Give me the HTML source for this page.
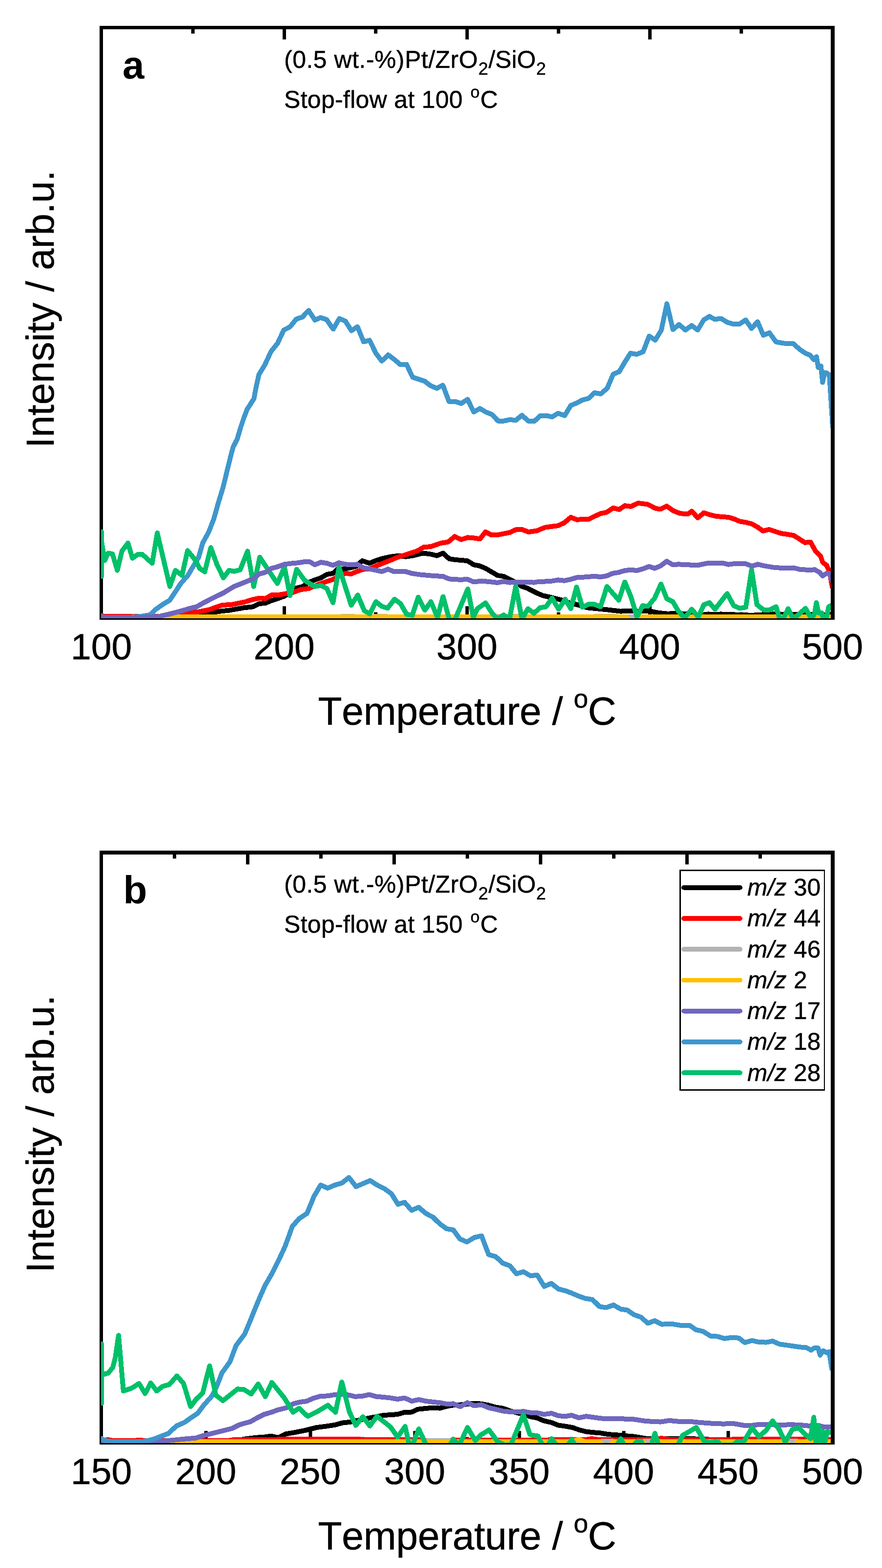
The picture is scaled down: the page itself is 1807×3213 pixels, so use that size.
<!DOCTYPE html>
<html lang="en">
<head>
<meta charset="utf-8">
<title>Stop-flow TPD profiles</title>
<style>
html,body{margin:0;padding:0;background:#fff;}
body{width:1807px;height:3213px;overflow:hidden;}
svg{display:block;font-family:"Liberation Sans", Arial, Helvetica, sans-serif;fill:#000;font-kerning:none;text-rendering:geometricPrecision;}
text{stroke:#000;stroke-width:0.5px;}
text[stroke=none]{stroke:none;}
</style>
</head>
<body>
<svg width="1807" height="3213" viewBox="0 0 1807 3213">
<rect width="1807" height="3213" fill="#fff"/>
<g id="panel-a">
<g fill="#000">
<rect x="204" y="53" width="7" height="1217"/>
<rect x="204" y="1263" width="1506" height="7"/>
<rect x="579" y="1242.2" width="7" height="24.8"/>
<rect x="953.5" y="1242.2" width="7" height="24.8"/>
<rect x="1328" y="1242.2" width="7" height="24.8"/>
<rect x="391.75" y="1254.6" width="7" height="12.4"/>
<rect x="766.25" y="1254.6" width="7" height="12.4"/>
<rect x="1140.75" y="1254.6" width="7" height="12.4"/>
<rect x="1515.25" y="1254.6" width="7" height="12.4"/>
</g>
<clipPath id="clip-a"><rect x="207" y="60" width="1495" height="1207"/></clipPath>
<g clip-path="url(#clip-a)" fill="none" stroke-width="10" stroke-linejoin="round" stroke-linecap="round" shape-rendering="crispEdges">
<polyline stroke="#000000" points="207.6,1264.0 360.0,1264.0 376.0,1262.9 407.0,1260.8 427.7,1257.1 448.4,1252.8 469.2,1250.7 500.0,1245.3 518.6,1243.3 531.1,1237.0 543.5,1236.0 555.9,1230.8 568.3,1226.7 582.8,1221.5 607.7,1204.9 620.1,1201.8 632.5,1193.6 644.9,1188.4 657.3,1184.2 669.8,1177.0 682.2,1174.9 692.5,1165.6 705.0,1165.6 717.4,1163.5 729.8,1160.4 742.2,1149.0 756.7,1154.2 769.2,1149.0 781.6,1144.9 800.0,1140.8 816.6,1138.7 831.1,1140.8 845.5,1138.7 866.3,1133.5 882.8,1135.6 895.2,1138.7 907.7,1133.5 920.1,1144.9 932.5,1147.0 944.9,1148.0 957.3,1149.0 970.8,1157.3 982.2,1159.4 994.6,1164.6 1007.0,1171.8 1019.5,1179.1 1031.9,1181.1 1044.3,1187.3 1056.7,1193.6 1069.2,1201.8 1079.5,1204.9 1100.0,1215.3 1112.4,1220.5 1131.1,1224.6 1151.8,1229.8 1168.3,1236.0 1182.8,1239.1 1203.5,1245.3 1224.2,1247.4 1244.9,1249.5 1271.8,1252.6 1292.5,1251.5 1307.0,1252.6 1327.7,1251.5 1348.4,1255.7 1367.1,1257.7 1389.9,1256.7 1410.0,1258.8 1430.7,1260.8 1451.4,1258.4 1463.8,1259.4 1476.3,1258.4 1503.2,1259.4 1540.4,1260.8 1563.2,1259.4 1588.1,1258.2 1617.0,1259.0 1650.2,1259.0 1687.4,1259.8 1706.1,1259.0"/>
<polyline stroke="#ff0000" points="207.6,1260.8 213.0,1263.4 330.0,1263.4 344.9,1260.8 376.0,1257.3 407.0,1253.6 427.7,1249.5 454.7,1240.1 475.4,1238.7 500.0,1233.9 516.6,1228.8 531.1,1225.7 543.5,1226.7 555.9,1219.4 568.3,1219.4 587.0,1216.3 599.4,1214.3 615.9,1208.1 632.5,1206.0 644.9,1200.8 657.3,1195.6 682.2,1187.3 694.6,1180.1 707.0,1174.9 719.5,1176.0 731.9,1170.8 744.3,1166.6 756.7,1165.6 769.2,1160.4 781.6,1155.3 800.0,1148.0 812.4,1142.8 831.1,1136.6 853.8,1129.4 868.3,1121.1 882.8,1120.1 903.5,1112.8 918.0,1110.7 931.5,1099.4 944.9,1105.6 958.4,1101.4 971.8,1102.5 983.2,1104.5 994.6,1090.0 1007.0,1096.3 1021.5,1095.8 1034.0,1093.1 1044.3,1091.1 1056.7,1085.5 1069.2,1084.9 1082.6,1090.0 1100.0,1087.6 1116.6,1080.7 1131.1,1078.7 1143.5,1077.2 1155.9,1071.4 1169.4,1060.0 1182.8,1065.2 1193.2,1063.5 1205.6,1064.2 1218.0,1058.0 1230.4,1052.4 1242.9,1049.7 1256.3,1040.8 1268.7,1044.1 1280.1,1036.2 1292.5,1037.9 1307.0,1031.0 1317.4,1032.1 1327.7,1033.7 1342.2,1041.4 1352.6,1043.5 1366.0,1037.2 1379.5,1046.6 1394.0,1052.4 1410.0,1052.8 1417.2,1047.6 1429.7,1061.1 1442.1,1050.7 1454.5,1054.8 1468.0,1058.0 1480.4,1059.0 1492.8,1060.0 1503.2,1063.1 1515.6,1068.3 1528.0,1070.4 1540.4,1073.5 1552.9,1080.7 1563.2,1088.0 1575.6,1084.9 1588.1,1089.0 1600.5,1093.1 1615.0,1095.2 1626.4,1097.3 1637.7,1104.5 1649.1,1111.8 1660.5,1110.7 1670.9,1129.4 1681.2,1139.7 1685.4,1152.2 1693.6,1158.4 1699.9,1172.9 1705.0,1202.9"/>
<polyline stroke="#b3b3b3" points="207.6,1265.2 400.0,1265.2 420.0,1264.2 690.0,1264.2 700.0,1263.4 725.0,1263.4 735.0,1264.2 760.0,1264.2 768.0,1263.2 790.0,1263.2 800.0,1264.2 1010.0,1264.2 1020.0,1263.4 1060.0,1263.4 1070.0,1264.2 1210.0,1264.2 1220.0,1263.2 1260.0,1263.2 1270.0,1264.0 1710.0,1264.0"/>
<polyline stroke="#ffc000" points="207.6,1265.4 268.0,1265.4 274.0,1263.6 284.0,1263.6 290.0,1265.2 330.0,1265.2 345.0,1264.3 1284.0,1264.3 1288.0,1275.0 1304.0,1275.0 1308.0,1264.3 1710.0,1264.3"/>
<polyline stroke="#3f97cc" points="207.6,1263.5 212.0,1264.8 272.0,1264.8 288.0,1263.0 299.0,1261.3 307.7,1259.8 318.0,1249.5 332.5,1239.1 348.0,1229.8 359.4,1212.2 371.8,1193.6 384.3,1180.1 394.6,1162.5 407.0,1141.8 415.3,1112.8 427.7,1090.0 438.1,1063.1 447.4,1030.0 457.1,998.6 465.0,965.8 472.6,934.7 477.8,915.7 485.9,900.0 493.2,875.4 499.4,856.7 506.6,838.1 520.1,817.4 525.3,790.5 530.4,767.7 542.9,747.0 555.3,720.1 568.7,703.5 581.2,676.6 594.6,669.4 607.0,653.8 619.5,649.7 632.3,636.2 645.3,655.9 656.7,650.7 669.2,654.9 682.6,674.5 695.2,652.8 707.6,658.0 720.0,677.6 732.4,669.4 744.9,700.4 757.3,697.3 769.7,723.2 782.1,739.8 795.2,727.3 808.0,736.6 820.4,747.4 832.9,746.6 845.3,772.9 857.7,777.0 870.1,781.2 882.5,790.5 895.0,795.7 907.4,789.4 919.8,822.6 932.2,822.6 944.7,826.7 958.1,818.4 970.5,844.3 983.1,837.1 995.5,844.3 1008.0,849.5 1020.4,862.5 1032.8,862.5 1044.2,859.8 1056.6,861.3 1069.4,850.9 1082.5,862.9 1094.9,862.9 1107.3,851.6 1118.7,851.6 1131.1,854.2 1143.6,846.8 1157.0,851.6 1169.4,830.8 1181.9,825.7 1193.3,819.5 1205.7,816.4 1218.1,805.0 1230.9,807.0 1244.0,795.7 1256.4,766.7 1268.8,761.5 1280.4,741.5 1291.7,723.9 1304.2,726.0 1317.6,720.8 1330.0,688.7 1342.5,697.0 1354.9,676.3 1366.3,622.4 1378.7,675.2 1391.1,664.9 1404.2,676.3 1417.0,667.0 1429.4,676.3 1441.8,655.6 1453.2,648.3 1464.6,654.5 1477.0,652.5 1490.5,660.7 1501.9,663.9 1515.3,663.9 1527.8,655.6 1539.7,673.1 1552.1,659.3 1563.8,686.9 1576.3,682.1 1590.1,700.7 1606.6,703.5 1625.3,704.2 1638.4,715.9 1650.8,724.2 1659.8,727.7 1667.3,737.3 1672.9,731.1 1676.3,753.2 1681.8,749.7 1685.3,783.6 1689.4,763.5 1693.6,764.2 1698.4,767.7 1699.4,771.8 1706.0,875.3"/>
<polyline stroke="#00c06a" points="208.1,1181.0 208.1,1089.8 208.4,1112.0 214.5,1148.6 221.7,1133.5 230.4,1135.0 240.4,1168.7 249.7,1129.4 262.1,1112.8 271.4,1143.9 282.8,1135.6 291.1,1135.6 311.8,1154.2 322.2,1092.1 348.0,1201.8 359.4,1168.7 372.9,1179.1 384.3,1128.3 398.8,1145.9 409.1,1164.6 419.5,1171.8 431.9,1122.1 444.3,1156.3 457.8,1184.2 469.2,1168.7 479.5,1170.8 491.9,1167.7 507.2,1129.4 519.7,1201.8 532.1,1141.8 568.3,1195.6 582.8,1161.5 594.2,1220.5 607.7,1166.6 624.2,1189.4 644.9,1201.8 657.3,1199.8 669.8,1206.0 682.2,1235.0 694.6,1162.5 719.5,1240.1 732.9,1219.4 746.4,1251.5 757.8,1257.7 770.2,1232.9 781.6,1242.2 794.0,1246.4 808.3,1227.7 820.7,1237.0 833.1,1258.8 844.5,1260.8 856.9,1223.6 870.4,1250.5 882.8,1232.9 896.3,1265.0 907.7,1222.5 921.1,1271.2 931.5,1271.2 958.4,1207.0 969.8,1265.0 978.1,1247.4 994.6,1235.4 1009.1,1257.7 1019.5,1267.7 1031.9,1260.2 1043.9,1268.5 1056.7,1200.8 1069.2,1268.5 1081.6,1247.4 1094.0,1256.7 1106.2,1245.3 1118.6,1243.3 1131.1,1225.7 1144.5,1248.4 1158.0,1227.7 1169.4,1247.4 1181.2,1202.9 1193.2,1244.3 1205.6,1238.1 1217.0,1238.1 1230.4,1243.3 1243.5,1201.8 1267.7,1229.8 1280.1,1192.5 1292.5,1222.5 1305.0,1264.0 1316.4,1241.2 1327.7,1242.2 1341.2,1225.7 1354.2,1196.7 1366.0,1226.7 1378.5,1232.9 1389.9,1252.6 1402.7,1266.0 1417.2,1248.4 1430.7,1264.0 1442.1,1239.1 1453.5,1235.0 1464.9,1248.4 1489.7,1216.3 1503.2,1241.2 1515.6,1246.4 1528.0,1244.3 1539.8,1167.7 1550.8,1239.1 1564.2,1249.5 1577.7,1249.5 1590.1,1243.3 1597.4,1268.1 1604.6,1268.1 1614.6,1247.4 1625.3,1268.1 1637.7,1257.7 1650.2,1246.4 1662.6,1268.1 1668.8,1257.7 1672.5,1235.0 1677.1,1255.7 1683.3,1255.7 1687.4,1270.2 1692.6,1268.1 1697.8,1243.3 1701.9,1241.2 1706.1,1241.2"/>
<polyline stroke="#6e67be" points="207.6,1264.7 290.0,1264.7 312.0,1264.0 324.2,1263.5 344.9,1258.8 365.6,1253.6 386.3,1247.4 402.9,1243.3 417.4,1235.0 438.1,1224.6 458.8,1214.3 479.5,1201.8 500.0,1193.6 518.6,1186.3 531.1,1176.0 543.5,1172.9 555.9,1164.6 568.3,1161.5 582.8,1156.3 599.4,1154.2 611.8,1153.2 624.2,1151.1 634.6,1151.1 644.9,1157.3 657.3,1152.2 669.8,1154.2 682.2,1158.4 694.6,1153.2 707.0,1156.3 719.5,1157.3 731.9,1156.3 744.3,1163.5 756.7,1165.6 769.2,1168.3 782.6,1171.2 795.0,1166.2 806.2,1171.0 831.1,1171.2 843.5,1174.9 860.0,1177.4 882.8,1179.5 907.7,1181.1 920.1,1186.3 932.5,1187.3 944.9,1187.8 957.3,1186.9 970.8,1192.5 986.3,1190.5 1007.0,1192.5 1019.5,1194.0 1031.9,1191.5 1044.3,1193.6 1056.7,1192.5 1069.2,1192.5 1094.0,1193.6 1100.0,1192.5 1116.6,1191.5 1131.1,1190.5 1143.5,1188.4 1155.9,1189.8 1168.3,1187.3 1182.8,1183.2 1203.5,1182.2 1218.0,1180.7 1230.4,1182.2 1242.9,1180.1 1255.3,1174.9 1267.7,1172.9 1280.1,1169.1 1292.5,1167.7 1305.0,1169.1 1317.4,1165.6 1329.8,1160.8 1341.2,1164.6 1353.6,1159.4 1366.0,1150.1 1378.5,1157.3 1389.9,1156.3 1410.0,1157.3 1428.6,1158.4 1451.4,1153.8 1480.4,1153.8 1492.8,1156.7 1507.3,1154.6 1528.0,1155.3 1540.4,1160.0 1552.9,1156.3 1565.3,1159.4 1583.9,1162.5 1604.6,1164.2 1625.3,1163.5 1637.7,1166.6 1660.5,1168.3 1668.8,1167.1 1679.2,1172.9 1685.4,1180.1 1693.6,1174.9 1699.9,1174.9 1703.6,1188.4"/>
</g>
<g fill="#000">
<rect x="204" y="53" width="1506" height="7"/>
<rect x="1702" y="53" width="8" height="1217"/>
<rect x="579" y="53" width="7" height="27.8"/>
<rect x="953.5" y="53" width="7" height="27.8"/>
<rect x="1328" y="53" width="7" height="27.8"/>
<rect x="391.75" y="53" width="7" height="15.8"/>
<rect x="766.25" y="53" width="7" height="15.8"/>
<rect x="1140.75" y="53" width="7" height="15.8"/>
<rect x="1515.25" y="53" width="7" height="15.8"/>
</g>
<g font-size="75" text-anchor="middle">
<text x="207.60" y="1350.50">100</text>
<text x="582.10" y="1350.50">200</text>
<text x="956.60" y="1350.50">300</text>
<text x="1331.10" y="1350.50">400</text>
<text x="1705.60" y="1350.50">500</text>
</g>
<text font-size="80.5" x="651.4" y="1484.50" letter-spacing="-0.3">Temperature / <tspan font-size="53.5" dy="-34.5">o</tspan><tspan dy="34.5">C</tspan></text>
<text font-size="80" text-anchor="middle" transform="translate(109.6 633.50) rotate(-90)">Intensity / arb.u.</text>
<text font-size="80" font-weight="bold" stroke="none" x="251.00" y="160.80">a</text>
<text font-size="50" x="582" y="138.70"><tspan letter-spacing="0.5">(0.5 wt.-%)Pt/ZrO</tspan><tspan font-size="36" dy="14.2" dx="0.6">2</tspan><tspan dy="-14.2" dx="0.6">/SiO</tspan><tspan font-size="36" dy="14.2" dx="0.6">2</tspan></text>
<text font-size="50" x="582" y="220.80" letter-spacing="0.3">Stop-flow at 100 <tspan font-size="34" dy="-21" dx="1.3">o</tspan><tspan dy="21" dx="1.2">C</tspan></text>
</g>
<g id="panel-b">
<g fill="#000">
<rect x="204" y="1743" width="7" height="1217"/>
<rect x="204" y="2953" width="1506" height="7"/>
<rect x="418.5" y="2932.2" width="7" height="24.8"/>
<rect x="632.5" y="2932.2" width="7" height="24.8"/>
<rect x="846.5" y="2932.2" width="7" height="24.8"/>
<rect x="1060.5" y="2932.2" width="7" height="24.8"/>
<rect x="1274.5" y="2932.2" width="7" height="24.8"/>
<rect x="1488.5" y="2932.2" width="7" height="24.8"/>
<rect x="311.5" y="2944.6" width="7" height="12.4"/>
<rect x="525.5" y="2944.6" width="7" height="12.4"/>
<rect x="739.5" y="2944.6" width="7" height="12.4"/>
<rect x="953.5" y="2944.6" width="7" height="12.4"/>
<rect x="1167.5" y="2944.6" width="7" height="12.4"/>
<rect x="1381.5" y="2944.6" width="7" height="12.4"/>
<rect x="1595.5" y="2944.6" width="7" height="12.4"/>
</g>
<clipPath id="clip-b"><rect x="207" y="1751" width="1495" height="1206"/></clipPath>
<g clip-path="url(#clip-b)" fill="none" stroke-width="10" stroke-linejoin="round" stroke-linecap="round" shape-rendering="crispEdges">
<polyline stroke="#000000" points="207.6,2953.0 480.0,2953.0 500.0,2948.8 524.8,2945.7 541.4,2944.6 555.9,2942.6 570.4,2946.1 584.9,2938.4 603.5,2935.3 624.2,2931.2 649.1,2925.0 665.6,2922.9 686.3,2919.8 700.8,2915.7 719.5,2913.6 738.1,2909.4 758.8,2905.3 785.7,2900.1 800.0,2899.1 814.5,2898.1 829.0,2893.9 843.5,2893.5 855.9,2887.7 872.5,2886.0 887.0,2884.6 901.4,2885.6 915.9,2881.5 928.4,2879.4 944.9,2878.4 957.3,2877.3 971.8,2875.7 986.3,2876.7 1000.8,2879.4 1015.3,2883.6 1029.8,2885.6 1044.3,2890.8 1058.8,2894.9 1073.3,2898.1 1087.8,2903.2 1100.0,2905.3 1114.5,2911.5 1129.0,2914.6 1143.5,2920.4 1158.0,2922.5 1172.5,2925.0 1187.0,2930.1 1201.4,2933.7 1215.9,2935.3 1230.4,2936.4 1244.9,2939.0 1265.6,2940.5 1286.3,2942.6 1298.8,2943.6 1323.6,2947.7 1348.4,2948.2 1369.2,2947.7 1410.0,2947.7 1430.7,2948.8 1472.1,2950.2 1534.2,2950.2 1596.3,2949.4 1706.1,2950.2"/>
<polyline stroke="#ff0000" points="207.6,2952.0 214.0,2952.0 221.0,2949.8 230.0,2952.0 276.0,2952.0 285.0,2950.6 296.0,2952.0 470.0,2951.5 483.0,2949.5 500.0,2950.5 545.0,2949.8 583.0,2949.3 650.0,2948.8 672.0,2949.5 700.0,2949.2 800.0,2950.0 862.0,2950.2 872.0,2951.6 922.0,2951.6 932.0,2950.5 1000.0,2950.6 1100.0,2950.6 1200.0,2950.2 1212.0,2948.0 1228.0,2950.0 1340.0,2950.0 1355.0,2947.0 1372.0,2950.0 1480.0,2950.5 1500.0,2949.5 1580.0,2948.8 1600.0,2949.5 1640.0,2949.0 1710.0,2950.0"/>
<polyline stroke="#b3b3b3" points="207.6,2953.9 868.0,2953.9 878.0,2951.8 920.0,2951.8 930.0,2953.9 1230.0,2953.9 1236.0,2952.5 1252.0,2952.5 1258.0,2953.9 1316.0,2953.9 1322.0,2952.5 1334.0,2952.5 1340.0,2953.9 1610.0,2953.9 1616.0,2952.5 1630.0,2952.5 1636.0,2953.9 1710.0,2953.9"/>
<polyline stroke="#ffc000" points="207.6,2954.5 1170.0,2954.5 1186.0,2949.5 1200.0,2954.5 1228.0,2954.5 1236.0,2966.0 1250.0,2966.0 1256.0,2954.5 1318.0,2954.5 1322.0,2966.0 1330.0,2966.0 1336.0,2954.5 1612.0,2954.5 1616.0,2966.0 1630.0,2966.0 1634.0,2954.5 1710.0,2954.5"/>
<polyline stroke="#6e67be" points="207.6,2953.5 300.0,2954.0 313.9,2955.0 344.9,2951.9 376.0,2948.8 400.8,2946.7 417.4,2941.5 438.1,2936.4 458.8,2931.2 475.4,2927.0 489.9,2919.8 500.0,2916.7 512.4,2913.6 526.9,2905.3 541.4,2898.1 555.9,2893.9 570.4,2888.7 587.0,2884.6 601.4,2876.3 613.9,2873.2 628.4,2871.1 642.9,2864.9 657.3,2860.8 671.8,2860.4 686.3,2857.7 700.8,2857.1 715.3,2858.7 727.7,2861.8 742.2,2860.8 756.7,2857.7 771.2,2861.8 785.7,2862.9 800.0,2864.5 814.5,2867.0 829.0,2864.5 843.5,2871.1 858.0,2868.0 872.5,2871.1 887.0,2872.8 901.4,2874.2 915.9,2877.3 928.4,2876.3 942.9,2882.5 957.3,2874.2 971.8,2880.5 986.3,2878.4 1000.8,2884.6 1015.3,2887.7 1029.8,2891.4 1044.3,2892.9 1058.8,2892.9 1073.3,2892.3 1087.8,2894.9 1100.0,2894.9 1114.5,2898.1 1130.0,2896.0 1144.5,2901.2 1158.0,2902.2 1171.4,2900.1 1185.9,2905.3 1201.4,2902.2 1215.9,2904.3 1230.4,2906.3 1244.9,2907.4 1276.0,2907.4 1298.8,2908.4 1323.6,2912.1 1352.6,2913.6 1371.2,2910.9 1387.8,2912.5 1410.0,2912.5 1430.7,2914.6 1451.4,2916.3 1482.5,2917.7 1501.1,2916.7 1525.9,2921.2 1544.6,2920.4 1554.9,2918.8 1575.6,2918.8 1596.3,2920.4 1617.0,2919.2 1637.7,2919.8 1658.4,2921.9 1677.1,2920.8 1687.4,2923.9 1706.1,2923.9"/>
<polyline stroke="#3f97cc" points="207.6,2947.5 214.0,2951.5 230.0,2954.0 293.2,2954.0 313.9,2949.4 328.4,2943.6 344.9,2937.4 361.5,2921.9 378.1,2914.6 392.5,2904.3 405.0,2896.0 417.4,2879.4 434.0,2860.8 444.3,2840.1 454.7,2813.2 471.2,2790.4 483.6,2757.3 489.0,2750.0 501.4,2733.6 515.9,2698.4 528.4,2667.4 542.9,2634.3 557.3,2609.4 571.8,2580.4 584.3,2553.5 592.5,2530.7 598.8,2513.1 613.3,2496.6 613.5,2496.7 629.0,2486.3 643.5,2451.1 656.9,2428.4 671.4,2434.6 685.9,2428.4 700.4,2424.2 714.9,2412.8 729.4,2431.5 743.9,2425.3 758.4,2419.0 772.9,2428.4 787.4,2435.6 801.9,2446.0 815.3,2467.7 828.8,2463.6 843.3,2480.1 857.8,2473.9 872.3,2486.3 887.2,2494.2 900.7,2507.6 915.2,2518.0 928.7,2520.1 942.1,2538.7 956.6,2544.9 972.1,2535.6 986.6,2532.5 1001.1,2570.8 1015.6,2574.9 1030.1,2588.4 1044.6,2593.6 1058.1,2610.1 1072.5,2606.0 1087.0,2614.3 1100.5,2612.6 1115.0,2636.0 1129.5,2629.8 1144.0,2641.2 1159.5,2645.3 1170.4,2649.4 1184.8,2655.6 1199.3,2660.8 1213.8,2662.9 1228.3,2677.3 1241.8,2679.4 1256.9,2674.2 1271.8,2682.5 1285.3,2684.6 1298.7,2693.9 1313.2,2699.1 1327.3,2711.5 1341.2,2706.3 1355.7,2713.6 1377.4,2713.0 1394.0,2715.7 1412.6,2715.7 1426.0,2725.0 1440.5,2728.1 1455.5,2737.6 1470.0,2738.6 1484.5,2742.8 1499.0,2740.7 1513.5,2741.7 1525.9,2751.1 1540.4,2746.9 1554.9,2750.0 1569.4,2750.6 1582.9,2748.0 1596.3,2754.2 1610.8,2756.2 1625.3,2758.3 1639.8,2760.4 1652.2,2761.4 1661.6,2766.6 1667.8,2762.4 1676.0,2762.4 1680.2,2776.9 1686.4,2767.6 1693.6,2771.8 1698.8,2769.7 1704.0,2804.9"/>
<polyline stroke="#00c06a" points="208.1,2875.5 208.1,2754.0 208.3,2814.0 214.5,2815.7 221.7,2813.6 231.1,2801.8 236.2,2782.1 242.9,2736.4 252.8,2850.4 270.4,2844.2 284.9,2834.9 297.3,2855.6 308.7,2833.9 321.1,2850.4 332.5,2841.1 347.0,2837.0 362.5,2819.4 376.0,2834.9 390.5,2882.5 401.9,2867.0 415.3,2854.6 429.4,2798.7 442.2,2858.7 456.7,2870.1 471.2,2858.7 486.7,2846.3 500.0,2847.3 514.5,2856.6 529.0,2835.9 543.5,2861.8 556.9,2832.8 582.8,2864.9 600.4,2893.9 612.8,2885.6 630.4,2902.2 651.1,2891.8 671.8,2879.4 687.4,2893.9 700.2,2831.8 715.3,2891.8 728.8,2920.8 743.3,2903.2 757.8,2921.9 772.3,2902.2 800.0,2923.9 814.5,2944.6 830.0,2922.9 838.3,2960.2 845.5,2960.2 858.0,2928.1 874.5,2964.3 920.1,2964.3 928.8,2948.8 940.8,2961.2 957.8,2925.0 973.9,2951.9 986.3,2939.5 1001.9,2930.1 1019.5,2954.0 1034.0,2961.2 1046.4,2961.2 1072.3,2899.1 1085.7,2939.5 1094.0,2941.5 1102.1,2942.6 1114.5,2966.4 1120.7,2966.4 1130.0,2948.0 1145.5,2968.4 1158.0,2968.4 1171.4,2950.2 1182.8,2968.4 1232.5,2968.4 1241.8,2961.2 1251.1,2968.4 1259.4,2968.4 1271.8,2948.2 1282.2,2968.4 1292.5,2968.4 1305.0,2953.5 1313.3,2952.7 1321.5,2968.4 1331.9,2968.4 1341.8,2937.0 1351.6,2968.4 1385.7,2968.4 1398.1,2941.5 1426.6,2925.0 1443.1,2954.0 1455.5,2956.0 1470.0,2952.9 1476.3,2961.2 1503.2,2961.2 1509.4,2954.0 1523.9,2954.0 1540.8,2926.0 1554.9,2943.6 1569.4,2931.2 1582.9,2911.5 1596.3,2929.1 1608.8,2955.0 1623.3,2929.1 1636.7,2926.0 1650.2,2939.5 1660.5,2947.7 1667.3,2904.3 1671.9,2958.1 1677.1,2921.9 1681.2,2958.1 1685.4,2933.3 1689.5,2958.1 1694.7,2933.3 1699.9,2935.3 1706.1,2935.3"/>
</g>
<g fill="#000">
<rect x="204" y="1743" width="1506" height="8"/>
<rect x="1702" y="1743" width="8" height="1217"/>
<rect x="504" y="1743" width="7" height="28.3"/>
<rect x="804" y="1743" width="7" height="28.3"/>
<rect x="1104" y="1743" width="7" height="28.3"/>
<rect x="1404" y="1743" width="7" height="28.3"/>
<rect x="354" y="1743" width="7" height="16.3"/>
<rect x="654" y="1743" width="7" height="16.3"/>
<rect x="954" y="1743" width="7" height="16.3"/>
<rect x="1254" y="1743" width="7" height="16.3"/>
<rect x="1554" y="1743" width="7" height="16.3"/>
</g>
<g font-size="75" text-anchor="middle">
<text x="207.60" y="3040.50">150</text>
<text x="421.60" y="3040.50">200</text>
<text x="635.60" y="3040.50">250</text>
<text x="849.60" y="3040.50">300</text>
<text x="1063.60" y="3040.50">350</text>
<text x="1277.60" y="3040.50">400</text>
<text x="1491.60" y="3040.50">450</text>
<text x="1705.60" y="3040.50">500</text>
</g>
<text font-size="80.5" x="651.4" y="3174.50" letter-spacing="-0.3">Temperature / <tspan font-size="53.5" dy="-34.5">o</tspan><tspan dy="34.5">C</tspan></text>
<text font-size="80" text-anchor="middle" transform="translate(109.6 2323.50) rotate(-90)">Intensity / arb.u.</text>
<text font-size="80" font-weight="bold" stroke="none" x="252.50" y="1850.80">b</text>
<text font-size="50" x="582" y="1828.70"><tspan letter-spacing="0.5">(0.5 wt.-%)Pt/ZrO</tspan><tspan font-size="36" dy="14.2" dx="0.6">2</tspan><tspan dy="-14.2" dx="0.6">/SiO</tspan><tspan font-size="36" dy="14.2" dx="0.6">2</tspan></text>
<text font-size="50" x="582" y="1910.80" letter-spacing="0.3">Stop-flow at 150 <tspan font-size="34" dy="-21" dx="1.3">o</tspan><tspan dy="21" dx="1.2">C</tspan></text>
<rect x="1392" y="1782" width="298" height="453" fill="#fff"/>
<g fill="#000"><rect x="1392" y="1782" width="298" height="3"/><rect x="1392" y="2232" width="298" height="3"/><rect x="1392" y="1782" width="3" height="453"/><rect x="1688" y="1782" width="2" height="453"/></g>
<path d="M1401 1818.70 H1516" stroke="#000000" stroke-width="9.8" stroke-linecap="round" fill="none" shape-rendering="crispEdges"/>
<text font-size="49.5" x="1531" y="1835.20" letter-spacing="0.35"><tspan font-style="italic">m/z</tspan> 30</text>
<path d="M1401 1881.95 H1516" stroke="#ff0000" stroke-width="9.8" stroke-linecap="round" fill="none" shape-rendering="crispEdges"/>
<text font-size="49.5" x="1531" y="1898.45" letter-spacing="0.35"><tspan font-style="italic">m/z</tspan> 44</text>
<path d="M1401 1945.20 H1516" stroke="#b3b3b3" stroke-width="9.8" stroke-linecap="round" fill="none" shape-rendering="crispEdges"/>
<text font-size="49.5" x="1531" y="1961.70" letter-spacing="0.35"><tspan font-style="italic">m/z</tspan> 46</text>
<path d="M1401 2008.45 H1516" stroke="#ffc000" stroke-width="9.8" stroke-linecap="round" fill="none" shape-rendering="crispEdges"/>
<text font-size="49.5" x="1531" y="2024.95" letter-spacing="0.35"><tspan font-style="italic">m/z</tspan> 2</text>
<path d="M1401 2071.70 H1516" stroke="#6e67be" stroke-width="9.8" stroke-linecap="round" fill="none" shape-rendering="crispEdges"/>
<text font-size="49.5" x="1531" y="2088.20" letter-spacing="0.35"><tspan font-style="italic">m/z</tspan> 17</text>
<path d="M1401 2134.95 H1516" stroke="#3f97cc" stroke-width="9.8" stroke-linecap="round" fill="none" shape-rendering="crispEdges"/>
<text font-size="49.5" x="1531" y="2151.45" letter-spacing="0.35"><tspan font-style="italic">m/z</tspan> 18</text>
<path d="M1401 2198.20 H1516" stroke="#00c06a" stroke-width="9.8" stroke-linecap="round" fill="none" shape-rendering="crispEdges"/>
<text font-size="49.5" x="1531" y="2214.70" letter-spacing="0.35"><tspan font-style="italic">m/z</tspan> 28</text>
</g>
</svg>
</body>
</html>
